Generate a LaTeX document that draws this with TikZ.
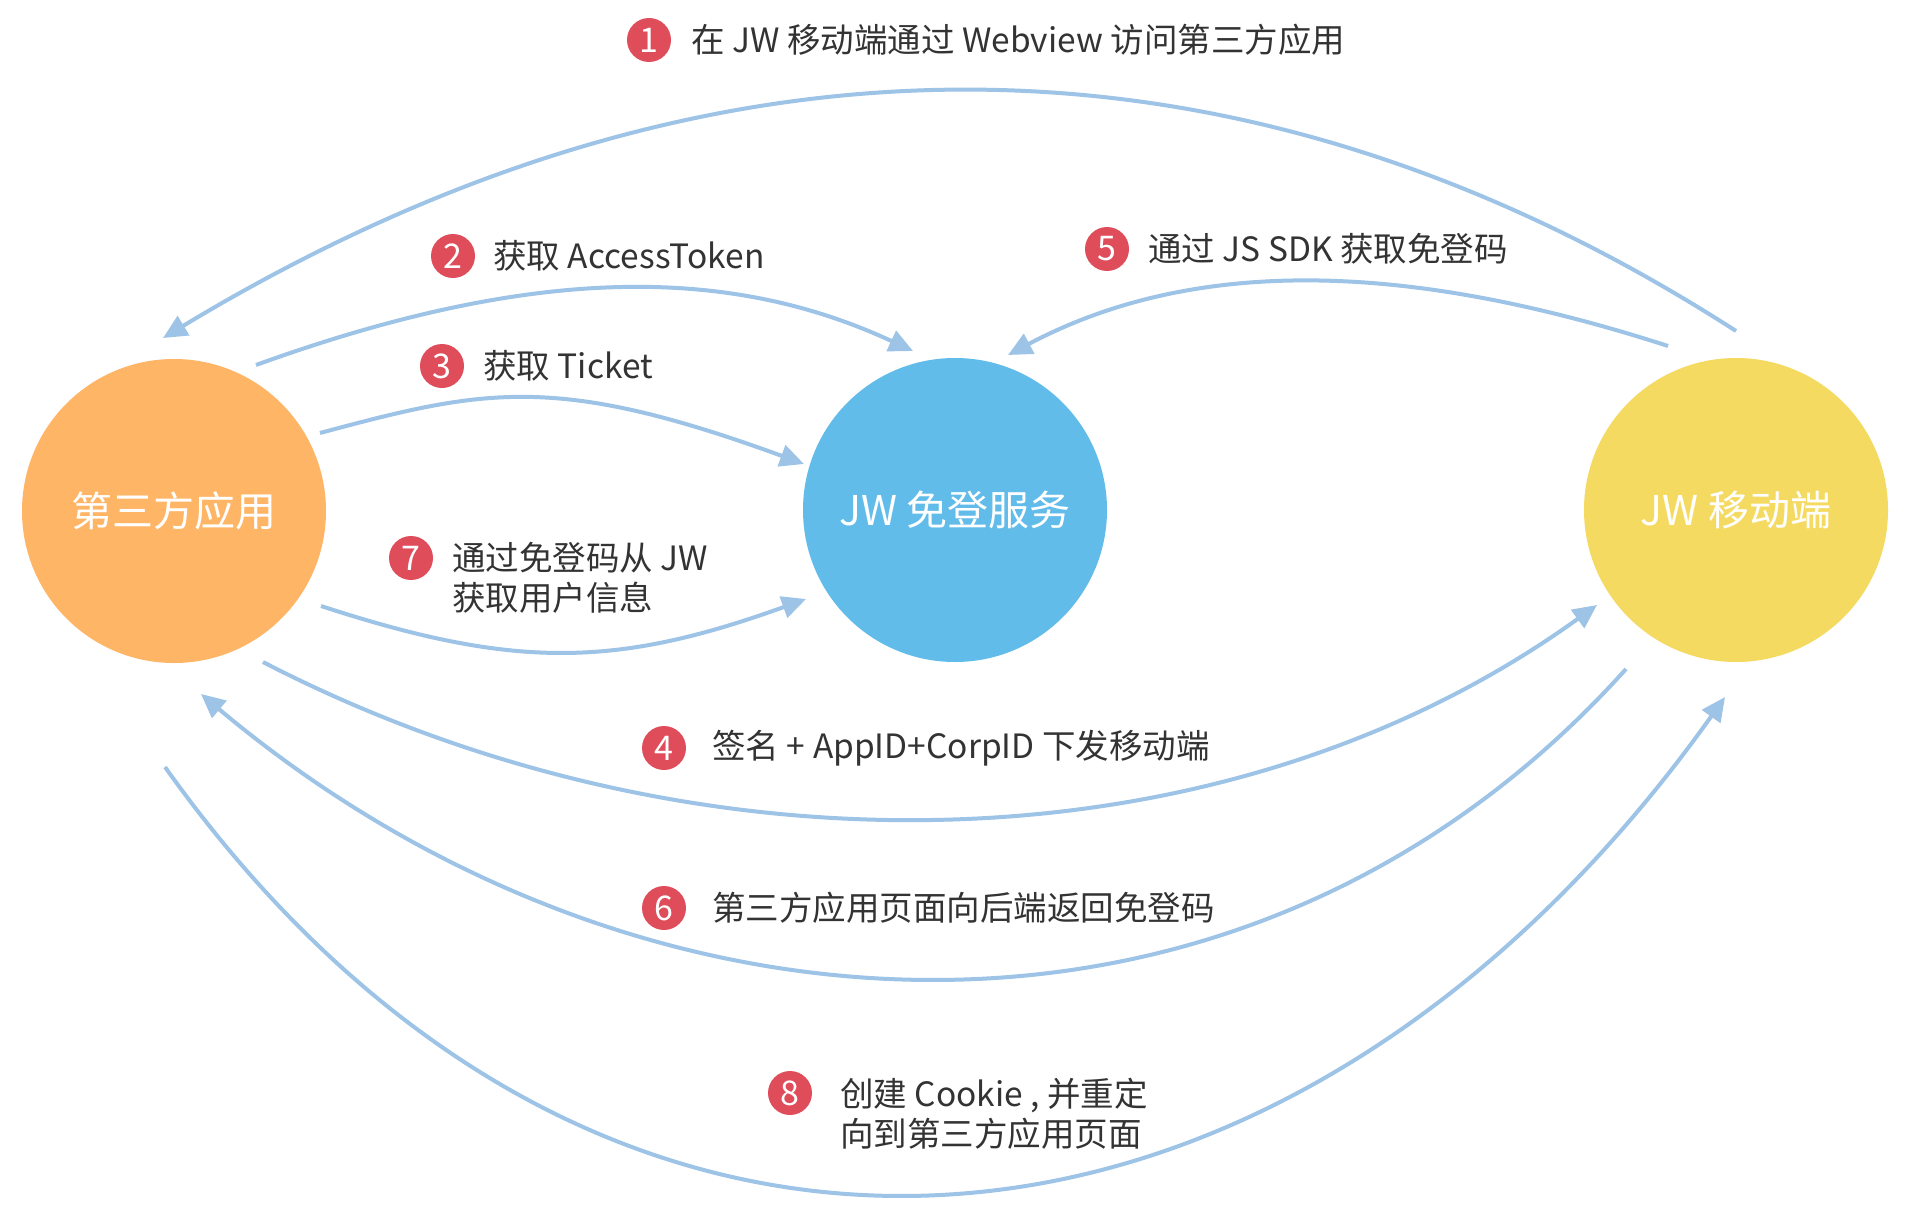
\documentclass[tikz,border=0pt]{standalone}
\usepackage{fontspec}
\setmainfont{Noto Sans CJK SC}
\usetikzlibrary{arrows.meta,positioning}
\definecolor{ssoOrange}{HTML}{FFB566}
\definecolor{ssoBlue}{HTML}{62BCEA}
\definecolor{ssoYellow}{HTML}{F5DA62}
\definecolor{ssoLine}{HTML}{9DC3E6}
\definecolor{ssoRed}{HTML}{DF4C5A}
\definecolor{ssoInk}{HTML}{333333}
\begin{document}
\begin{tikzpicture}[x=1pt,y=-1pt,>={Triangle[length=24pt,width=22pt]}]
\path[use as bounding box,fill=white] (0,0) rectangle (1908,1212);
\tikzset{hub/.style={circle,minimum size=304pt,inner sep=0pt,text=white,font=\fontsize{41}{48}\selectfont},
  badge/.style={circle,fill=ssoRed,minimum size=44pt,inner sep=0pt,text=white,font=\fontsize{34}{34}\selectfont},
  lbl/.style={inner sep=0pt,text=ssoInk,font=\fontsize{33.5}{40}\selectfont,align=left},
  flow/.style={draw=ssoLine,line width=4pt,->}}
% the three parties
\node[hub,fill=ssoOrange] (app) at (174,511) {第三方应用};
\node[hub,fill=ssoBlue] (sso) at (955,510) {JW 免登服务};
\node[hub,fill=ssoYellow] (jw) at (1736,510) {JW 移动端};
% free ends of the flows
\coordinate (jwTop) at (1736,331); \coordinate (appTop) at (163,338);
\coordinate (appA) at (256,365); \coordinate (ssoA) at (913,351);
\coordinate (appB) at (320,433); \coordinate (ssoB) at (804,464);
\coordinate (appC) at (321,606); \coordinate (ssoC) at (806,599);
\coordinate (jwA) at (1668,346); \coordinate (ssoD) at (1008,355);
\coordinate (appD) at (263,662); \coordinate (jwB) at (1597,605);
\coordinate (jwC) at (1626,669); \coordinate (appE) at (201,694);
\coordinate (appF) at (165,767); \coordinate (jwD) at (1725,697);
% flows
\draw[flow] (jwTop) .. controls (1250,18) and (720,2) .. (appTop);
\draw[flow] (appA) .. controls (538,263) and (732,267) .. (ssoA);
\draw[flow] (appB) .. controls (484,389) and (555,373) .. (ssoB);
\draw[flow] (appC) .. controls (514,669) and (615,668) .. (ssoC);
\draw[flow] (jwA) .. controls (1445,274) and (1215,245) .. (ssoD);
\draw[flow] (appD) .. controls (690,883) and (1221,876) .. (jwB);
\draw[flow] (jwC) .. controls (1245,1093) and (638,1061) .. (appE);
\draw[flow] (appF) .. controls (602,1381) and (1288,1311) .. (jwD);
% step labels
\node[badge] (n1) at (649,40) {1}; \node[lbl,right=20pt of n1] (t1) {在 JW 移动端通过 Webview 访问第三方应用};
\node[badge] (n2) at (453,256) {2}; \node[lbl,right=18pt of n2] (t2) {获取 AccessToken};
\node[badge] (n3) at (442,366) {3}; \node[lbl,right=19pt of n3] (t3) {获取 Ticket};
\node[badge] (n4) at (664,748) {4}; \node[lbl,right=26pt of n4] (t4) {签名 + AppID+CorpID 下发移动端};
\node[badge] (n5) at (1107,249) {5}; \node[lbl,right=19pt of n5] (t5) {通过 JS SDK 获取免登码};
\node[badge] (n6) at (664,908) {6}; \node[lbl,right=26pt of n6] (t6) {第三方应用页面向后端返回免登码};
\node[badge] (n7) at (411,558) {7}; \node[lbl,right=19pt of n7,yshift=-20pt] (t7) {通过免登码从 JW\\获取用户信息};
\node[badge] (n8) at (790,1093) {8}; \node[lbl,right=28pt of n8,yshift=-21pt] (t8) {创建 Cookie , 并重定\\向到第三方应用页面};
\end{tikzpicture}
\end{document}
